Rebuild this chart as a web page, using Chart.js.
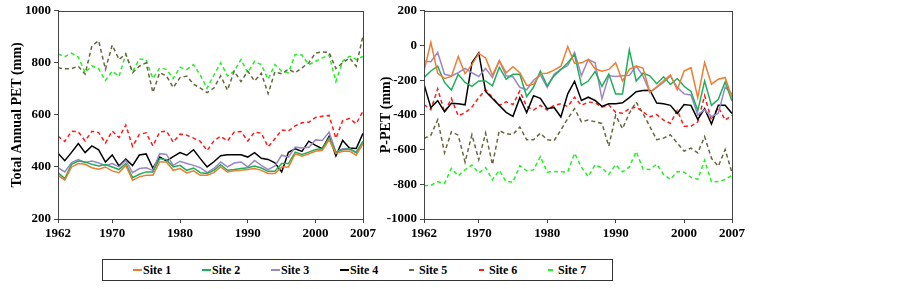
<!DOCTYPE html>
<html lang="en">
<head>
<meta charset="UTF-8">
<title>Total annual PET and P-PET, sites 1-7</title>
<script src="https://cdn.jsdelivr.net/npm/chart.js"></script>
<style>
  body { margin: 0; background: #fff; width: 903px; height: 289px; position: relative; overflow: hidden;
         font-family: "Liberation Serif", "Times New Roman", serif; font-weight: bold; }
  #wrapPET  { position: absolute; left: 0;     top: 0; width: 380px; height: 250px; }
  #wrapPPET { position: absolute; left: 370px; top: 0; width: 380px; height: 250px; }
  #legend { position: absolute; left: 102px; top: 259px; width: 509px; height: 20px; border: 1px solid #333; }
  .item { position: absolute; top: 0; height: 20px; line-height: 20px; font-size: 12px; white-space: nowrap; color: #000; }
  .item span.mk { display: inline-block; vertical-align: middle; height: 2px; margin-right: 1px; position: relative; top: -1px; }
</style>
</head>
<body>
<div id="wrapPET"><canvas id="chartPET" width="380" height="250"></canvas></div>
<div id="wrapPPET"><canvas id="chartPPET" width="380" height="250"></canvas></div>
<div id="legend"></div>

<script>
// years on the x axis
const years = [1962, 1963, 1964, 1965, 1966, 1967, 1968, 1969, 1970, 1971,
               1972, 1973, 1974, 1975, 1976, 1977, 1978, 1979, 1980, 1981,
               1982, 1983, 1984, 1985, 1986, 1987, 1988, 1989, 1990, 1991,
               1992, 1993, 1994, 1995, 1996, 1997, 1998, 1999, 2000, 2001,
               2002, 2003, 2004, 2005, 2006, 2007];
const xTicks = [1962, 1970, 1980, 1990, 2000, 2007];
const petTicks = [200, 400, 600, 800, 1000];
const ppetTicks = [-1000, -800, -600, -400, -200, 0, 200];

const sites = ['Site 1', 'Site 2', 'Site 3', 'Site 4', 'Site 5', 'Site 6', 'Site 7'];

// Total annual PET (mm)
const pet1 = [368, 349, 400, 413, 410, 397, 391, 400, 385, 378, 406, 349, 362, 368, 368, 419, 419, 387, 394, 377,
              385, 368, 368, 378, 400, 381, 385, 387, 390, 394, 387, 375, 375, 400, 400, 451, 441, 451, 460, 464,
              504, 451, 460, 461, 445, 489];
const pet2 = [378, 355, 410, 423, 419, 410, 404, 409, 400, 390, 413, 359, 372, 381, 381, 432, 428, 400, 406, 387,
              396, 378, 375, 387, 409, 387, 390, 394, 397, 404, 396, 383, 383, 413, 413, 457, 448, 457, 467, 470,
              512, 457, 466, 470, 455, 499];
const pet3 = [397, 381, 417, 428, 417, 423, 415, 406, 413, 400, 425, 378, 394, 397, 387, 451, 448, 406, 422, 413,
              406, 397, 378, 394, 419, 400, 415, 419, 400, 425, 406, 390, 404, 445, 438, 476, 473, 476, 504, 502,
              534, 457, 470, 470, 457, 495];
const pet4 = [453, 424, 456, 490, 455, 481, 466, 419, 446, 404, 430, 405, 446, 450, 395, 438, 423, 440, 455, 445,
              466, 432, 400, 420, 443, 447, 447, 447, 438, 455, 433, 429, 416, 381, 456, 470, 460, 499, 483, 470,
              518, 442, 502, 473, 471, 529];
const pet5 = [781, 777, 778, 787, 757, 865, 885, 775, 868, 813, 835, 762, 787, 800, 686, 762, 750, 705, 743, 749,
              718, 703, 686, 703, 750, 695, 768, 728, 768, 730, 760, 682, 765, 758, 775, 762, 781, 800, 838, 842,
              840, 778, 800, 819, 787, 905];
const pet6 = [518, 498, 537, 535, 500, 537, 532, 492, 538, 513, 561, 479, 525, 531, 481, 534, 538, 495, 526, 522,
              511, 498, 463, 500, 518, 500, 534, 536, 500, 534, 530, 477, 508, 542, 538, 558, 570, 572, 590, 595,
              598, 510, 578, 586, 566, 615];
const pet7 = [834, 824, 837, 822, 762, 789, 777, 732, 768, 748, 833, 766, 815, 812, 740, 780, 775, 740, 783, 775,
              793, 753, 702, 753, 800, 750, 768, 813, 762, 806, 793, 737, 793, 768, 762, 832, 830, 793, 806, 819,
              830, 728, 806, 825, 813, 825];

// P-PET (mm)
const ppet1 = [-148, 18, -160, -190, -178, -64, -162, -110, -46, -72, -172, -89, -157, -122, -157, -230, -223, -162, -160, -142,
               -119, -6, -104, -100, -81, -134, -148, -138, -100, -205, -138, -119, -130, -270, -238, -204, -170, -255, -147, -128,
               -300, -98, -223, -194, -184, -300];
const ppet2 = [-185, -147, -119, -213, -257, -166, -213, -236, -204, -204, -232, -125, -194, -166, -166, -294, -241, -147, -232, -175,
               -138, -100, -53, -230, -205, -150, -235, -165, -280, -280, -25, -205, -160, -175, -220, -180, -225, -190, -235, -265,
               -375, -205, -345, -310, -210, -320];
const ppet3 = [-91, -94, -40, -166, -175, -157, -132, -157, -179, -132, -185, -87, -175, -180, -241, -255, -200, -170, -241, -166,
               -138, -115, -40, -175, -81, -100, -308, -175, -179, -175, -172, -119, -175, -270, -241, -213, -175, -241, -279, -285,
               -400, -370, -410, -390, -240, -280];
const ppet4 = [-223, -358, -318, -382, -333, -336, -342, -100, -43, -265, -305, -345, -385, -408, -301, -387, -289, -304, -364, -357,
               -412, -279, -206, -317, -298, -317, -351, -336, -336, -330, -300, -266, -260, -258, -332, -336, -345, -392, -340, -345,
               -426, -364, -453, -345, -345, -392];
const ppet5 = [-536, -517, -428, -618, -497, -517, -672, -514, -658, -505, -687, -490, -510, -512, -470, -543, -543, -506, -543, -549,
               -487, -421, -364, -440, -430, -440, -449, -581, -402, -480, -390, -326, -392, -468, -543, -534, -515, -562, -609, -591,
               -619, -525, -650, -696, -600, -734];
const ppet6 = [-340, -370, -250, -385, -305, -405, -388, -355, -300, -255, -300, -345, -325, -340, -262, -352, -372, -345, -372, -345,
               -336, -352, -298, -345, -326, -330, -355, -342, -385, -390, -364, -355, -383, -411, -398, -430, -449, -374, -466, -466,
               -440, -289, -430, -355, -430, -402];
const ppet7 = [-808, -806, -785, -795, -708, -751, -716, -689, -735, -704, -774, -719, -785, -787, -693, -722, -717, -640, -730, -726,
               -728, -729, -621, -701, -756, -687, -706, -743, -687, -728, -700, -611, -712, -715, -684, -743, -772, -727, -730, -760,
               -772, -661, -786, -784, -772, -748];

const colors = ['#ED7D31', '#1FAE5A', '#9A86C8', '#000000', '#66663F', '#FF1A1A', '#22F022'];
const dashed = [false, false, false, false, true, true, true];

const fonte = { family: '"Liberation Serif", "Times New Roman", serif', weight: 'bold' };

function makeDatasets(series) {
    return series.map((vals, k) => ({
        label: sites[k],
        data: years.map((yr, j) => ({ x: yr, y: vals[j] })),
        borderColor: colors[k],
        backgroundColor: colors[k],
        borderWidth: 1.5,
        borderDash: dashed[k] ? [4, 3] : [],
        pointRadius: 0,
        tension: 0,
        fill: false
    }));
}

// frame around the plot area
const frame = {
    id: 'frame',
    afterDraw(chart) {
        const a = chart.chartArea, ctx = chart.ctx;
        ctx.save();
        ctx.strokeStyle = '#444';
        ctx.lineWidth = 1;
        ctx.strokeRect(Math.round(a.left) + 0.5, Math.round(a.top) + 0.5,
                       Math.round(a.right - a.left), Math.round(a.bottom - a.top));
        ctx.restore();
    }
};

function makeChart(id, series, yTicks, title, axisWidth, padRight, titlePad) {
    const ctx = document.getElementById(id).getContext('2d');
    return new Chart(ctx, {
        type: 'line',
        data: { datasets: makeDatasets(series) },
        options: {
            responsive: false,
            animation: false,
            layout: { padding: { left: 0, right: padRight, top: 9, bottom: 0 } },
            plugins: { legend: { display: false }, tooltip: { enabled: false } },
            scales: {
                x: {
                    type: 'linear',
                    min: 1962, max: 2007,
                    afterBuildTicks: s => { s.ticks = xTicks.map(v => ({ value: v })); },
                    afterFit: s => { s.height = 31; },
                    ticks: { font: { ...fonte, size: 13 }, color: '#000', padding: 3, maxRotation: 0,
                             autoSkip: false, callback: v => String(v) },
                    grid: { drawOnChartArea: false, drawTicks: true, tickLength: 4, color: '#444' },
                    border: { color: '#444' }
                },
                y: {
                    min: yTicks[0], max: yTicks[yTicks.length - 1],
                    afterBuildTicks: s => { s.ticks = yTicks.map(v => ({ value: v })); },
                    afterFit: s => { s.width = axisWidth; },
                    title: { display: true, text: title, color: '#000', font: { ...fonte, size: 14 },
                             padding: { top: titlePad, bottom: 0 } },
                    ticks: { font: { ...fonte, size: 13 }, color: '#000', padding: 3, callback: v => String(v) },
                    grid: { drawOnChartArea: false, drawTicks: true, tickLength: 4, color: '#444' },
                    border: { color: '#444' }
                }
            }
        },
        plugins: [frame]
    });
}

makeChart('chartPET', [pet1, pet2, pet3, pet4, pet5, pet6, pet7], petTicks, 'Total Annual PET (mm)', 58, 17, 9);
makeChart('chartPPET', [ppet1, ppet2, ppet3, ppet4, ppet5, ppet6, ppet7], ppetTicks, 'P-PET (mm)', 54, 18, 8);

// legend below both panels
const legendX = [30, 99, 168, 237, 306, 376, 445];
const legend = document.getElementById('legend');
sites.forEach((name, k) => {
    const it = document.createElement('div');
    it.className = 'item';
    it.style.left = legendX[k] + 'px';
    const mk = document.createElement('span');
    mk.className = 'mk';
    mk.style.background = colors[k];
    mk.style.width = dashed[k] ? '5px' : '9px';
    if (dashed[k]) mk.style.marginRight = '5px';
    it.appendChild(mk);
    it.appendChild(document.createTextNode(name));
    legend.appendChild(it);
});
</script>
</body>
</html>
